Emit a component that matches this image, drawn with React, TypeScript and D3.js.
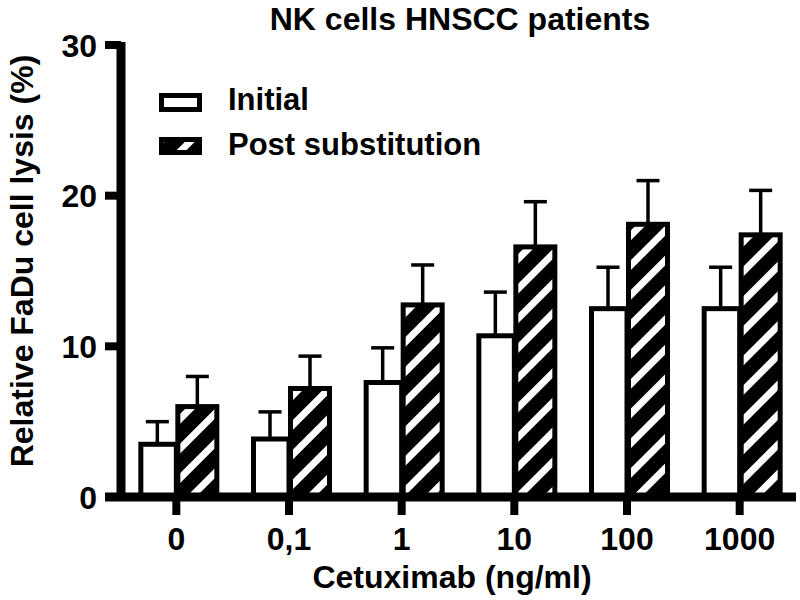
import React from 'react';
import * as d3 from 'd3';

const categories = ['0', '0,1', '1', '10', '100', '1000'];
const initialValues = [3.5, 3.85, 7.6, 10.7, 12.5, 12.5];
const initialErrors = [1.5, 1.8, 2.3, 2.9, 2.75, 2.75];
const postValues = [6.0, 7.2, 12.75, 16.6, 18.1, 17.4];
const postErrors = [2.0, 2.15, 2.65, 3.0, 2.9, 2.95];
const yTicks = [0, 10, 20, 30];
const seriesNames = ['Initial', 'Post substitution'];

const font = '"Liberation Sans", Arial, sans-serif';

export default function App() {
    const width = 800;
    const height = 600;

    const x = d3.scaleBand<string>()
        .domain(categories)
        .range([120, 796]);

    const y = d3.scaleLinear()
        .domain([0, 30])
        .range([497, 45]);

    const whiteW = 38;
    const hatchW = 44;
    const capW = 23;

    const center = (c: string) => (x(c) as number) + x.bandwidth() / 2;

    function errorBar(cx: number, v: number, e: number, key: string) {
        return (
            <g key={key}>
                <line x1={cx} x2={cx} y1={y(v)} y2={y(v + e)} stroke="#000" strokeWidth={3.5} />
                <line x1={cx - capW / 2} x2={cx + capW / 2} y1={y(v + e)} y2={y(v + e)} stroke="#000" strokeWidth={3.5} />
            </g>
        );
    }

    return (
        <svg width={width} height={height} style={{ position: 'absolute', left: 0, top: 0, background: '#fff' }}>
            <defs>
                <pattern id="hatch" patternUnits="userSpaceOnUse" width={21} height={21} patternTransform="rotate(45)">
                    <rect width={21} height={21} fill="#000" />
                    <rect x={0} width={7} height={21} fill="#fff" />
                </pattern>
            </defs>

            <text x={460} y={30} textAnchor="middle" fontFamily={font} fontWeight="bold" fontSize={32}>
                NK cells HNSCC patients
            </text>

            {/* bars */}
            {categories.map((c, i) => {
                const cx = center(c);
                const wl = cx - whiteW + 2.5;
                const hl = cx - 1 + 2.5;
                return (
                    <g key={c}>
                        {errorBar(cx - whiteW / 2, initialValues[i], initialErrors[i], 'ei' + i)}
                        {errorBar(cx - 1 + hatchW / 2, postValues[i], postErrors[i], 'ep' + i)}
                        <rect x={wl} y={y(initialValues[i])} width={whiteW - 2.5} height={y(0) - y(initialValues[i])}
                            fill="#fff" stroke="#000" strokeWidth={5} />
                        <rect x={hl} y={y(postValues[i])} width={hatchW - 5} height={y(0) - y(postValues[i])}
                            fill="url(#hatch)" stroke="#000" strokeWidth={5} />
                    </g>
                );
            })}

            {/* y axis */}
            <line x1={121} x2={121} y1={y(30) - 3} y2={y(0)} stroke="#000" strokeWidth={9} />
            {yTicks.map(t => (
                <g key={t}>
                    <line x1={105} x2={121} y1={y(t)} y2={y(t)} stroke="#000" strokeWidth={8} />
                    <text x={97} y={y(t)} dy="0.36em" textAnchor="end" fontFamily={font} fontWeight="bold" fontSize={32}>
                        {t}
                    </text>
                </g>
            ))}

            {/* x axis */}
            <line x1={105} x2={796} y1={y(0)} y2={y(0)} stroke="#000" strokeWidth={9} />
            {categories.map(c => (
                <g key={c}>
                    <line x1={center(c)} x2={center(c)} y1={y(0)} y2={515} stroke="#000" strokeWidth={8} />
                    <text x={center(c)} y={550} textAnchor="middle" fontFamily={font} fontWeight="bold" fontSize={32}>
                        {c}
                    </text>
                </g>
            ))}

            <text x={452} y={588} textAnchor="middle" fontFamily={font} fontWeight="bold" fontSize={32}>
                Cetuximab (ng/ml)
            </text>
            <text transform="translate(33,261) rotate(-90)" textAnchor="middle" fontFamily={font} fontWeight="bold" fontSize={32}>
                Relative FaDu cell lysis (%)
            </text>

            {/* legend */}
            <rect x={161.5} y={95.5} width={38} height={14} fill="#fff" stroke="#000" strokeWidth={5} />
            <text x={228} y={110} fontFamily={font} fontWeight="bold" fontSize={31}>{seriesNames[0]}</text>
            <rect x={161.5} y={139.5} width={38} height={13} fill="url(#hatch)" stroke="#000" strokeWidth={5} />
            <text x={228} y={155} fontFamily={font} fontWeight="bold" fontSize={31}>{seriesNames[1]}</text>
        </svg>
    );
}
